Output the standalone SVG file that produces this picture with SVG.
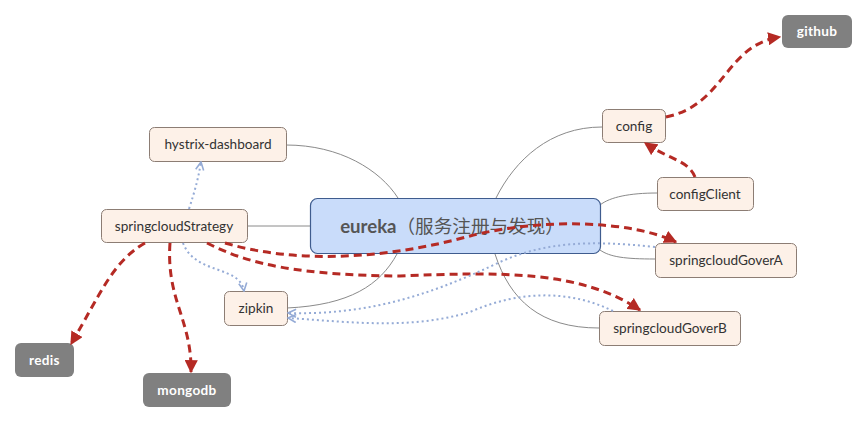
<svg xmlns="http://www.w3.org/2000/svg" width="868" height="423" viewBox="0 0 868 423">
<style>
.n rect{fill:#fdf1e8;stroke:#8c7d74;stroke-width:1}
.n text{font-family:Lato,"Open Sans",sans-serif;font-size:13.6px;fill:#333;text-anchor:middle}
.g rect{fill:#808080;stroke:none}
.g text{font-family:Lato,"Open Sans",sans-serif;font-size:13.6px;font-weight:bold;fill:#fff;text-anchor:middle;letter-spacing:0.3px}
.line{fill:none;stroke:#8a8a8a;stroke-width:1}
.red{fill:none;stroke:#b52a24;stroke-width:3;stroke-dasharray:8,5}
.blue{fill:none;stroke:#95abd6;stroke-width:2;stroke-dasharray:2,3}
</style>
<defs>
<marker id="ra" viewBox="0 0 10 10" refX="9" refY="5" markerWidth="4.4" markerHeight="4.4" orient="auto" markerUnits="strokeWidth">
<path d="M0,0 L10,5 L0,10 z" fill="#b52a24"/>
</marker>
<marker id="ba" viewBox="0 0 10 10" refX="9" refY="5" markerWidth="5" markerHeight="5" orient="auto" markerUnits="strokeWidth">
<path d="M1,1 L9,5 L1,9" fill="none" stroke="#95abd6" stroke-width="1.6"/>
</marker>
</defs>
<rect width="868" height="423" fill="#fff"/>
<g id="tree-lines">
<path class="line" d="M286,145 C340,145 380,170 398,198"/>
<path class="line" d="M247,226 L310,226"/>
<path class="line" d="M287,308 C350,305 380,285 397,254"/>
<path class="line" d="M602,127 C550,127 515,160 496,198"/>
<path class="line" d="M657,193 C630,193 610,197 600,205"/>
<path class="line" d="M655,259 C625,259 610,257 600,250"/>
<path class="line" d="M599,328 C540,328 510,300 495,254"/>
</g>
<g id="eureka">
<rect x="310.5" y="198.5" width="290" height="55" rx="7" fill="#c9dcfa" stroke="#3f5c8e" stroke-width="1.2"/>
<text x="452" y="233" text-anchor="middle" font-size="18.6" fill="#555"><tspan font-family="Lato,'Open Sans',sans-serif" font-weight="bold">eureka</tspan><tspan font-family="'Noto Sans CJK SC',sans-serif">（服务注册与发现）</tspan></text>
</g>
<g id="hystrix-dashboard" class="n"><rect x="149.5" y="127.5" width="137" height="34" rx="5"/><text x="218" y="149">hystrix-dashboard</text></g>
<g id="springcloudStrategy" class="n"><rect x="101.5" y="209.5" width="146" height="33" rx="5"/><text x="174" y="231">springcloudStrategy</text></g>
<g id="zipkin" class="n"><rect x="224.5" y="291.5" width="63" height="34" rx="5"/><text x="256" y="313">zipkin</text></g>
<g id="config" class="n"><rect x="602.5" y="109.5" width="63" height="33" rx="5"/><text x="634" y="131">config</text></g>
<g id="configClient" class="n"><rect x="657.5" y="177.5" width="96" height="33" rx="5"/><text x="705" y="199">configClient</text></g>
<g id="springcloudGoverA" class="n"><rect x="655.5" y="243.5" width="141" height="34" rx="5"/><text x="726" y="265">springcloudGoverA</text></g>
<g id="springcloudGoverB" class="n"><rect x="599.5" y="311.5" width="141" height="34" rx="5"/><text x="670" y="333">springcloudGoverB</text></g>
<g id="github" class="g"><rect x="782" y="15" width="70" height="33" rx="6"/><text x="817" y="36">github</text></g>
<g id="redis" class="g"><rect x="15" y="343" width="59" height="34" rx="6"/><text x="44.5" y="365">redis</text></g>
<g id="mongodb" class="g"><rect x="143" y="373" width="88" height="34" rx="6"/><text x="187" y="395">mongodb</text></g>
<g id="connectors">
<path class="red" marker-end="url(#ra)" d="M666,117 C725,105 725,45 780,37"/>
<path class="red" marker-end="url(#ra)" d="M695,177 C688,160 670,160 645,143"/>
<path class="red" marker-end="url(#ra)" d="M225,243 C300,265 390,258 470,236 C540,218 630,220 676,242"/>
<path class="red" marker-end="url(#ra)" d="M207,243 C250,265 300,275 400,276 C500,272 580,270 640,310"/>
<path class="red" marker-end="url(#ra)" d="M145,243 C112,262 100,295 71,344"/>
<path class="red" marker-end="url(#ra)" d="M170,243 C166,300 192,320 191,372"/>
<path class="blue" marker-end="url(#ba)" d="M189,209 C195,190 198,180 201,162"/>
<path class="blue" marker-end="url(#ba)" d="M183,243 C195,275 240,265 244,291"/>
<path class="blue" marker-end="url(#ba)" d="M655,247 C590,240 545,242 500,262 C420,300 360,315 288,313"/>
<path class="blue" marker-end="url(#ba)" d="M613,311 C570,290 520,290 470,312 C410,330 350,322 288,318"/>
</g>
</svg>
